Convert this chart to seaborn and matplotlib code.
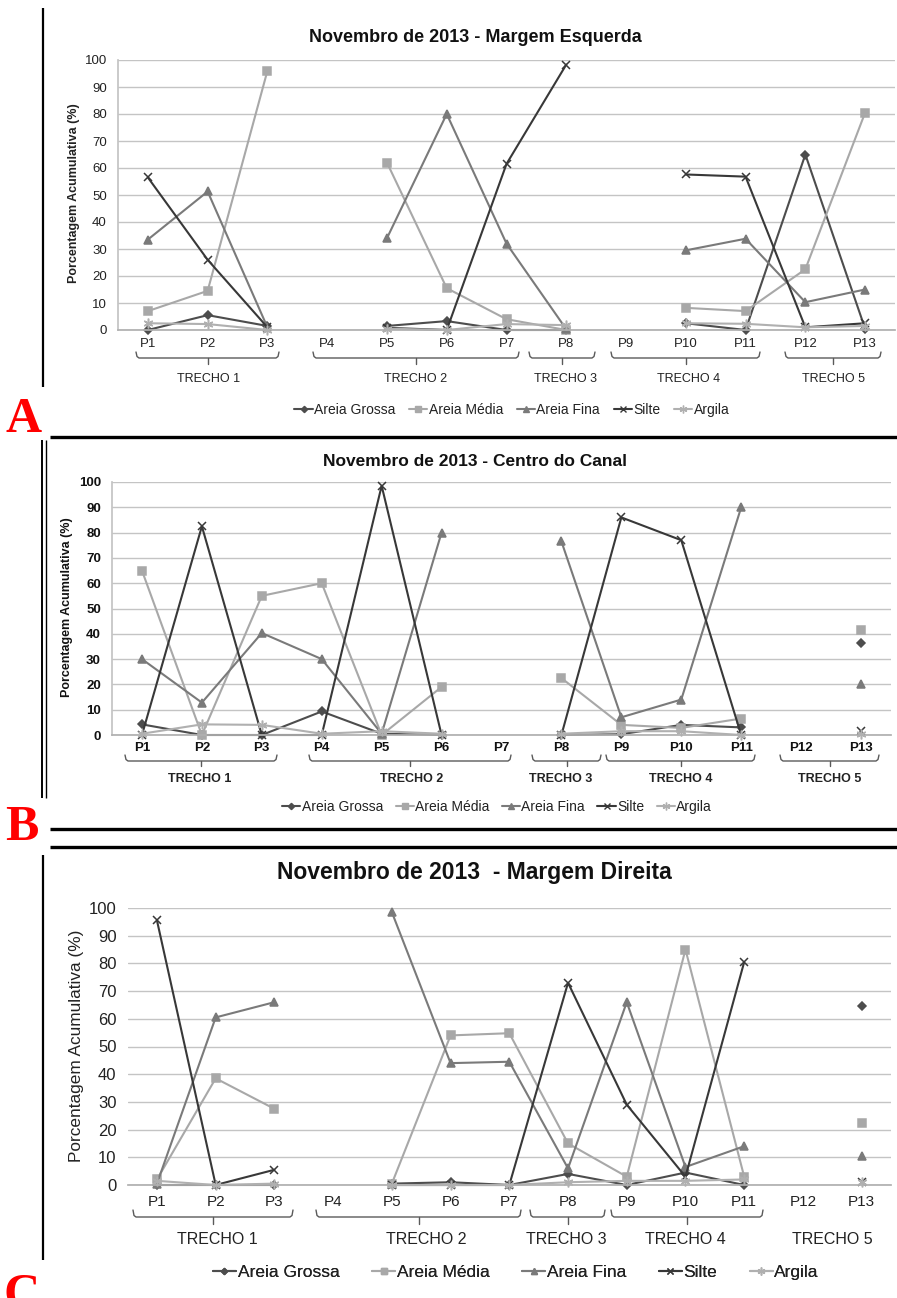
import numpy as np
import pandas as pd
import matplotlib
matplotlib.use("Agg")
import matplotlib.pyplot as plt
import seaborn as sns
from matplotlib.lines import Line2D

nan = np.nan
categories = ["P1", "P2", "P3", "P4", "P5", "P6", "P7", "P8", "P9", "P10", "P11", "P12", "P13"]
trechos = ["TRECHO 1", "TRECHO 2", "TRECHO 3", "TRECHO 4", "TRECHO 5"]
series_names = ["Areia Grossa", "Areia Média", "Areia Fina", "Silte", "Argila"]
yticks = [0, 10, 20, 30, 40, 50, 60, 70, 80, 90, 100]

title_a = "Novembro de 2013 - Margem Esquerda"
title_b = "Novembro de 2013 - Centro do Canal"
title_c = "Novembro de 2013  - Margem Direita"
ylabel = "Porcentagem Acumulativa (%)"

# Panel A - Margem Esquerda
a_grossa = [0, 5.5, 1.5, nan, 1.5, 3.3, 0, 0, nan, 2.5, 0, 65, 0.5]
a_media = [7, 14.5, 96, nan, 62, 15.5, 4, 0, nan, 8.2, 7, 22.5, 80.5]
a_fina = [33.5, 51.3, 1, nan, 34, 80, 32, 0.3, nan, 29.5, 33.8, 10.3, 15]
a_silte = [56.5, 26, 1, nan, 0.8, 0, 61.5, 98.3, nan, 57.6, 56.8, 1, 2.5]
a_argila = [2.5, 2.2, 0, nan, 0.5, 0, 2.2, 1.8, nan, 2.5, 2.3, 1, 1.5]

# Panel B - Centro do Canal
b_grossa = [4.2, 0, 0, 9.3, 0.5, 0, nan, 0, 0.3, 4, 3, nan, 36.5]
b_media = [65, 0, 55, 60, 0, 19, nan, 22.5, 4, 2.8, 6.5, nan, 41.5]
b_fina = [30, 12.8, 40.3, 30, 0.5, 80, nan, 76.5, 7, 14, 90, nan, 20]
b_silte = [0, 82.5, 0, 0, 98.5, 0, nan, 0, 86, 77, 0, nan, 1.5]
b_argila = [0.5, 4.2, 4, 0.5, 1.5, 0.5, nan, 0.5, 1.5, 1.5, 0, nan, 0.5]

# Panel C - Margem Direita
c_grossa = [0, 0, 0, nan, 0.5, 1, 0, 4, 0, 4.5, 0, nan, 64.5]
c_media = [2, 38.5, 27.5, nan, 0.5, 54, 54.8, 15, 3, 85, 3, nan, 22.5]
c_fina = [0.5, 60.5, 66, nan, 98.5, 44, 44.5, 6, 66, 6.5, 14, nan, 10.5]
c_silte = [95.5, 0, 5.5, nan, 0, 0, 0, 73, 29, 3, 80.5, nan, 1]
c_argila = [1.5, 0, 0.5, nan, 0, 0, 0, 1, 1.5, 1.5, 2, nan, 1]

colors = ["#4d4d4d", "#a8a8a8", "#7a7a7a", "#383838", "#b0b0b0"]
markers = ["D", "s", "^", "x", (6, 2, 0)]
msizes = [4, 5.5, 5.5, 5.5, 7]

sns.set_theme(style="white")
plt.rcParams["font.family"] = ["Liberation Sans", "DejaVu Sans"]

W, H = 897, 1298
fig = plt.figure(figsize=(W / 100, H / 100), dpi=100)

# overlay in pixel coordinates
ov = fig.add_axes([0, 0, 1, 1])
ov.set_xlim(0, W)
ov.set_ylim(H, 0)
ov.axis("off")
ov.patch.set_alpha(0)


def fig_rect(x0, x1, ytop, ybot):
    return [x0 / W, 1 - ybot / H, (x1 - x0) / W, (ybot - ytop) / H]


def draw_panel(rect, data, title, title_xy, title_fs):
    ax = fig.add_axes(rect)
    pos = np.arange(1, len(categories) + 1)
    for name, vals, col, mk, ms in zip(series_names, data, colors, markers, msizes):
        y = np.array(vals, dtype=float)
        seg = np.cumsum(np.isnan(y))
        df = pd.DataFrame({"pos": pos, "val": y, "seg": seg}).dropna()
        sns.lineplot(data=df, x="pos", y="val", units="seg", estimator=None, sort=False,
                     color=col, marker=mk, markersize=ms, markeredgecolor=col,
                     markerfacecolor=col, markeredgewidth=1.1, linewidth=1.5,
                     ax=ax, legend=False, clip_on=False)
    ax.set_xlim(0.5, len(categories) + 0.5)
    ax.set_ylim(0, 100)
    ax.set_yticks(yticks)
    ax.set_xticks(pos)
    ax.set_xticklabels(categories)
    ax.grid(axis="y", color="#c4c4c4", linewidth=1.0)
    ax.grid(axis="x", visible=False)
    ax.set_axisbelow(True)
    for s in ["top", "right"]:
        ax.spines[s].set_visible(False)
    ax.spines["bottom"].set_color("#b0b0b0")
    ax.spines["left"].set_color("#c4c4c4")
    ax.set_xlabel("")
    ax.set_ylabel("")
    ax.patch.set_alpha(0)
    ov.text(title_xy[0], title_xy[1], title, ha="center", va="center",
            fontsize=title_fs, fontweight="bold", color="#111111")
    return ax


def brackets(spans, ytop, ybot, ytick):
    for x0, x1 in spans:
        xc = (x0 + x1) / 2
        ov.plot([x0, x0 + 1, x0 + 3, x1 - 3, x1 - 1, x1],
                [ytop, ybot - 1.5, ybot, ybot, ybot - 1.5, ytop],
                color="#5a5a5a", lw=1.0)
        ov.plot([xc, xc], [ybot, ytick], color="#5a5a5a", lw=1.0)


def trecho_labels(xs, y, fs, weight="normal"):
    for t, x in zip(trechos, xs):
        ov.text(x, y, t, ha="center", va="center", fontsize=fs, fontweight=weight,
                color="#222222")


def legend(cx, cy, fs, spacing):
    handles = [Line2D([], [], color=c, marker=m, markersize=ms * 0.8, markeredgecolor=c,
                      markerfacecolor=c, lw=1.5, markeredgewidth=1.0)
               for c, m, ms in zip(colors, markers, msizes)]
    leg = ov.legend(handles, series_names, loc="center", bbox_to_anchor=(cx, cy),
                    bbox_transform=ov.transData, ncol=5, frameon=False, fontsize=fs,
                    handlelength=1.3, handletextpad=0.1, columnspacing=spacing,
                    borderpad=0)
    for t in leg.get_texts():
        t.set_color("#222222")
    ov.add_artist(leg)


# ---------------- Panel A ----------------
axA = draw_panel(fig_rect(118, 895, 60, 330),
                 [a_grossa, a_media, a_fina, a_silte, a_argila], title_a, (475, 38), 13)
axA.tick_params(axis="y", length=0, pad=8, labelsize=9.5, labelcolor="#222222")
axA.tick_params(axis="x", length=0, pad=6, labelsize=9.5, labelcolor="#222222")
ov.text(74, 193, ylabel, rotation=90, ha="center", va="center", fontsize=9,
        fontweight="bold", color="#222222")
brackets([(136, 279), (313, 519), (529, 595), (611, 760), (785, 881)], 352, 358, 364)
trecho_labels([209, 416, 566, 689, 834], 379, 9)
legend(512, 410, 10, 1.0)

# ---------------- Panel B ----------------
axB = draw_panel(fig_rect(112, 891, 482, 735),
                 [b_grossa, b_media, b_fina, b_silte, b_argila], title_b, (475, 461), 12.5)
axB.tick_params(axis="y", length=0, pad=8, labelsize=9.5, labelcolor="#111111")
axB.tick_params(axis="x", length=0, pad=5, labelsize=9.5, labelcolor="#111111")
for t in axB.get_yticklabels() + axB.get_xticklabels():
    t.set_fontweight("bold")
ov.text(67, 607, ylabel, rotation=90, ha="center", va="center", fontsize=9,
        fontweight="bold", color="#111111")
brackets([(125, 277), (309, 511), (532, 601), (606, 755), (780, 879)], 755, 761, 766)
trecho_labels([200, 412, 561, 681, 830], 779, 9, weight="bold")
legend(497, 807, 10, 0.9)

# ---------------- Panel C ----------------
axC = draw_panel(fig_rect(127.6, 891, 908, 1185),
                 [c_grossa, c_media, c_fina, c_silte, c_argila], title_c, (474, 872), 16.5)
axC.spines["left"].set_visible(False)
axC.tick_params(axis="y", length=0, pad=8, labelsize=12, labelcolor="#222222")
axC.tick_params(axis="x", length=0, pad=7, labelsize=11, labelcolor="#222222")
ov.text(77, 1046, ylabel, rotation=90, ha="center", va="center", fontsize=12.4,
        color="#222222")
brackets([(133, 293), (316, 521), (530, 605), (611, 763)], 1210, 1217, 1224)
trecho_labels([217, 426, 566, 685, 832], 1240, 11.5)
legend(516, 1272, 12.5, 1.9)

# ---------------- frame decorations ----------------
ov.plot([43, 43], [8, 387], color="black", lw=1.6, solid_capstyle="butt")
ov.plot([50, 897], [437, 437], color="black", lw=2.4, solid_capstyle="butt")
ov.plot([42, 42], [440, 798], color="black", lw=1.4, solid_capstyle="butt")
ov.plot([45.5, 45.5], [440, 798], color="black", lw=1.0, solid_capstyle="butt")
ov.plot([50, 897], [829, 829], color="black", lw=2.4, solid_capstyle="butt")
ov.plot([50, 897], [847, 847], color="black", lw=2.4, solid_capstyle="butt")
ov.plot([43, 43], [855, 1260], color="black", lw=1.6, solid_capstyle="butt")

for letter, x, y in [("A", 24, 432), ("B", 22, 840), ("C", 22, 1308)]:
    ov.text(x, y, letter, ha="center", va="baseline", fontsize=36, fontweight="bold",
            color="red", family=["Liberation Serif", "DejaVu Serif"])

fig.savefig("out.png", dpi=100)
